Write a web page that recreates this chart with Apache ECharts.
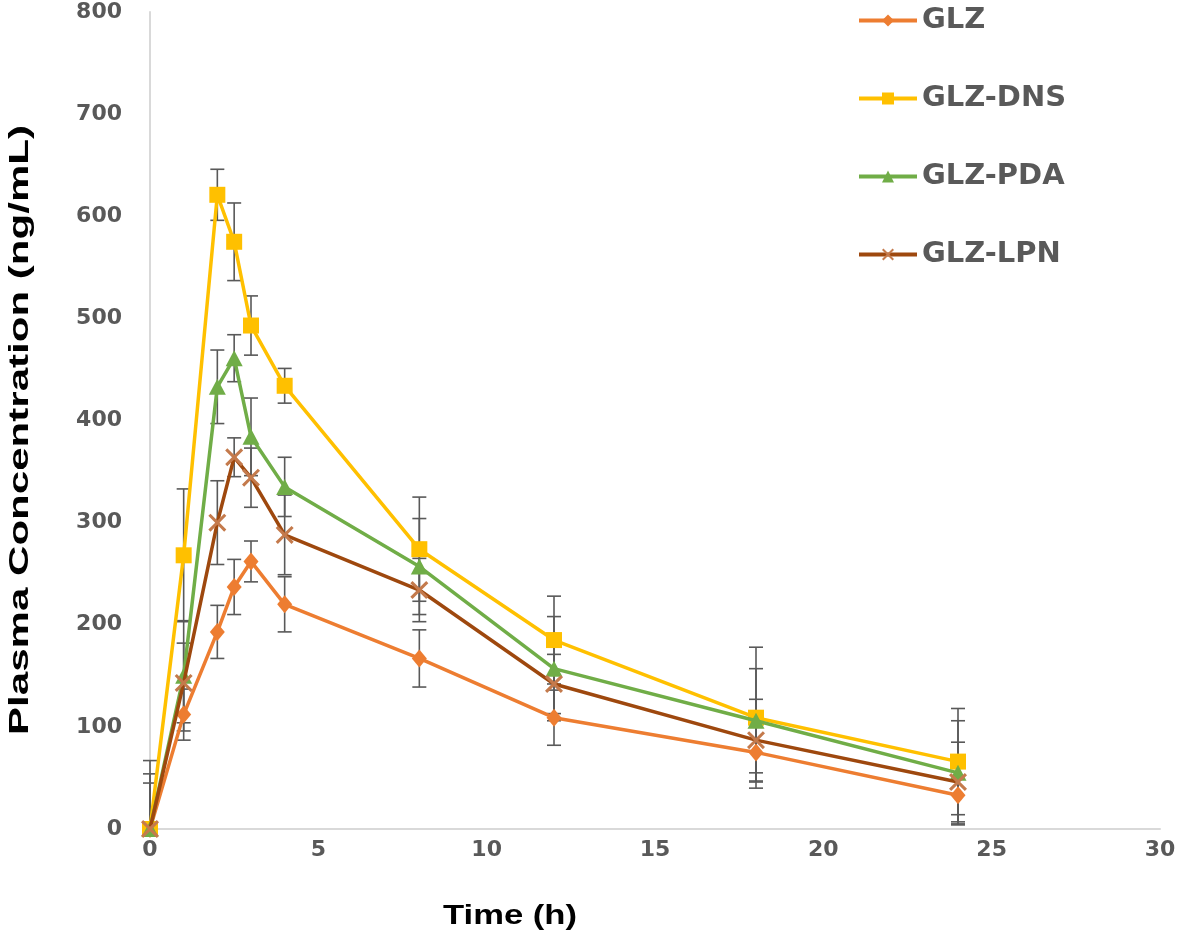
<!DOCTYPE html>
<html>
<head>
<meta charset="utf-8">
<script src="https://cdn.jsdelivr.net/npm/echarts@6/dist/echarts.min.js"></script>
<style>html,body{margin:0;padding:0;background:#fff}#chart{width:1181px;height:937px}</style>
</head>
<body>
<div id="chart"></div>
<script>
// ---- data ----
const time = [0, 1, 2, 2.5, 3, 4, 8, 12, 18, 24];
const seriesNames = ['GLZ', 'GLZ-DNS', 'GLZ-PDA', 'GLZ-LPN'];
const glz    = [0, 112, 193, 237, 262, 220, 167, 109, 75, 33];
const glzDns = [0, 268, 621, 575, 493, 434, 274, 185, 109, 66];
const glzPda = [0, 150, 433, 461, 384, 335, 257, 157, 106, 55];
const glzLpn = [0, 143, 300, 364, 344, 288, 234, 142, 87, 46];
const glzErr    = [0, 25, 26, 27, 20, 27, 28, 27, 29, 28];
const glzDnsErr = [67, 65, 25, 38, 29, 17, 51, 43, 69, 52];
const glzPdaErr = [54, 54, 36, 23, 38, 29, 47, 51, 51, 51];
const glzLpnErr = [45, 39, 41, 19, 29, 39, 31, 29, 40, 39];
const xTicks = [0, 5, 10, 15, 20, 25, 30];
const yTicks = [0, 100, 200, 300, 400, 500, 600, 700, 800];
const xTitle = 'Time (h)';
const yTitle = 'Plasma Concentration (ng/mL)';

// ---- styles ----
const colors = ['#ED7D31', '#FFC000', '#70AD47', '#9E480E'];
const markerColors = ['#ED7D31', '#FFC000', '#70AD47', '#C47A4C'];
const xSym = 'path://M0,1.2L1.2,0L5,3.8L8.8,0L10,1.2L6.2,5L10,8.8L8.8,10L5,6.2L1.2,10L0,8.8L3.8,5Z';
const symbols = ['diamond', 'rect', 'triangle', xSym];
const symbolSizes = [[15, 18], 16, [17, 16], 18];
const values = [glz, glzDns, glzPda, glzLpn];
const errs = [glzErr, glzDnsErr, glzPdaErr, glzLpnErr];

function measure(text, font) {
  const c = document.createElement('canvas').getContext('2d');
  c.font = font;
  return c.measureText(text).width;
}
const titleFamily = '"Liberation Sans", Arial, sans-serif';
const yFont = 30, xFont = 28;
const yW = measure(yTitle, 'bold ' + yFont + 'px ' + titleFamily);
const xW = measure(xTitle, 'bold ' + xFont + 'px ' + titleFamily);

const chart = echarts.init(document.getElementById('chart'));

const lineSeries = seriesNames.map((n, i) => ({
  name: n,
  type: 'line',
  data: time.map((t, k) => [t, values[i][k]]),
  symbol: symbols[i],
  symbolSize: symbolSizes[i],
  clip: false,
  z: 3 + i,
  lineStyle: { color: colors[i], width: 3.5 },
  itemStyle: { color: markerColors[i] },
  emphasis: { disabled: true }
}));

const errSeries = seriesNames.map((n, i) => ({
  name: n + ' err',
  type: 'custom',
  z: 2,
  clip: false,
  data: time.map((t, k) => [t, values[i][k], errs[i][k]]),
  encode: { x: 0, y: 1 },
  renderItem: function (params, api) {
    const x = api.value(0), y = api.value(1), e = api.value(2);
    if (!e) return null;
    const lo = Math.max(0, y - e);
    const top = api.coord([x, y + e]);
    const bot = api.coord([x, lo]);
    const hw = 7;
    const st = { stroke: '#595959', lineWidth: 1.6 };
    const children = [
      { type: 'line', shape: { x1: top[0], y1: top[1], x2: bot[0], y2: bot[1] }, style: st },
      { type: 'line', shape: { x1: top[0] - hw, y1: top[1], x2: top[0] + hw, y2: top[1] }, style: st }
    ];
    if (y - e >= 0) {
      children.push({ type: 'line', shape: { x1: bot[0] - hw, y1: bot[1], x2: bot[0] + hw, y2: bot[1] }, style: st });
    }
    return { type: 'group', children: children };
  }
}));

chart.setOption({
  animation: false,
  backgroundColor: '#ffffff',
  grid: { left: 150, right: 21, top: 12, bottom: 108, containLabel: false },
  legend: {
    data: seriesNames,
    orient: 'vertical',
    left: 852,
    top: 1,
    itemWidth: 58,
    itemHeight: 15,
    itemGap: 49,
    lineStyle: { width: 4 },
    textStyle: { fontFamily: '"DejaVu Sans"', fontWeight: 'bold', fontSize: 29, color: '#595959' }
  },
  xAxis: {
    type: 'value',
    min: xTicks[0],
    max: xTicks[xTicks.length - 1],
    interval: 5,
    axisLine: { show: true, lineStyle: { color: '#D9D9D9', width: 2 } },
    axisTick: { show: false },
    splitLine: { show: false },
    axisLabel: { margin: 10, fontFamily: '"DejaVu Sans"', fontWeight: 'bold', fontSize: 22, color: '#595959' }
  },
  yAxis: {
    type: 'value',
    min: yTicks[0],
    max: yTicks[yTicks.length - 1],
    interval: 100,
    axisLine: { show: true, lineStyle: { color: '#D9D9D9', width: 2 } },
    axisTick: { show: false },
    splitLine: { show: false },
    axisLabel: { margin: 28, fontFamily: '"DejaVu Sans"', fontWeight: 'bold', fontSize: 22, color: '#595959' }
  },
  graphic: [
    {
      type: 'text', x: 20, y: 430, rotation: Math.PI / 2,
      scaleX: 610 / yW, scaleY: 0.95,
      style: { text: yTitle, fontFamily: titleFamily, fontWeight: 'bold', fontSize: yFont, fill: '#000', align: 'center', verticalAlign: 'middle' }
    },
    {
      type: 'text', x: 510, y: 916,
      scaleX: 134 / xW, scaleY: 1,
      style: { text: xTitle, fontFamily: titleFamily, fontWeight: 'bold', fontSize: xFont, fill: '#000', align: 'center', verticalAlign: 'middle' }
    }
  ],
  series: errSeries.concat(lineSeries)
});
</script>
</body>
</html>
